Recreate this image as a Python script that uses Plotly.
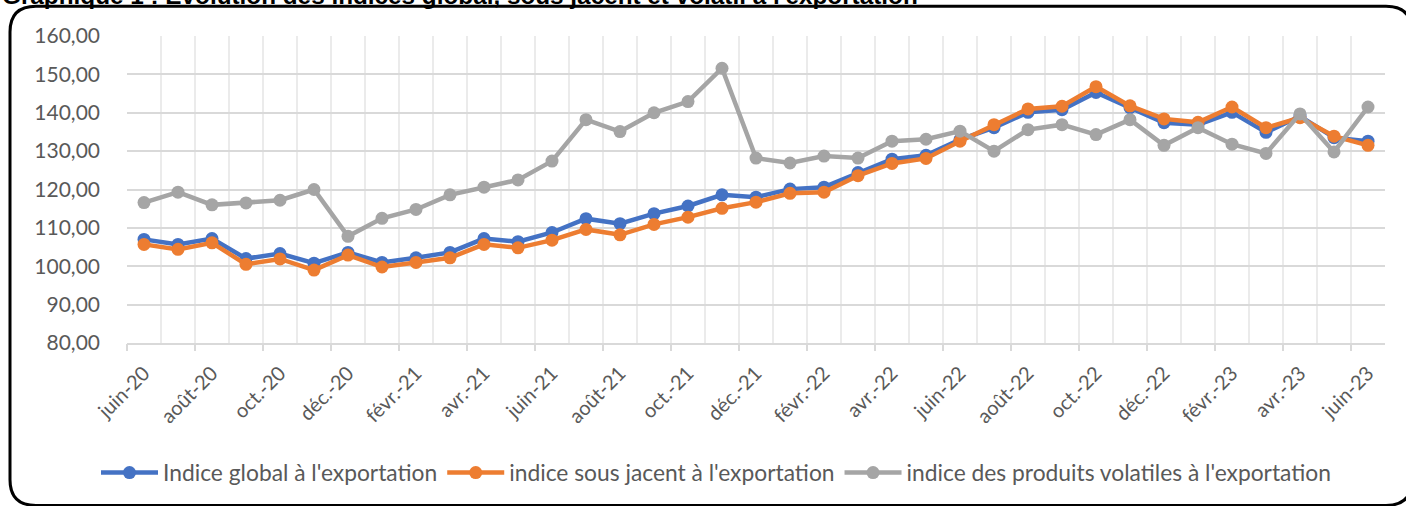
import plotly.graph_objects as go

# ---------------- data ----------------
months = ["juin-20", "juil.-20", "août-20", "sept.-20", "oct.-20", "nov.-20", "déc.-20",
          "janv.-21", "févr.-21", "mars-21", "avr.-21", "mai-21", "juin-21", "juil.-21",
          "août-21", "sept.-21", "oct.-21", "nov.-21", "déc.-21", "janv.-22", "févr.-22",
          "mars-22", "avr.-22", "mai-22", "juin-22", "juil.-22", "août-22", "sept.-22",
          "oct.-22", "nov.-22", "déc.-22", "janv.-23", "févr.-23", "mars-23", "avr.-23",
          "mai-23", "juin-23"]

indice_global = [107.0, 105.7, 107.2, 102.0, 103.3, 100.8, 103.6, 101.0, 102.2, 103.6,
                 107.2, 106.4, 108.8, 112.4, 111.1, 113.7, 115.7, 118.6, 118.0, 120.1,
                 120.6, 124.4, 127.9, 128.9, 133.0, 136.1, 140.1, 140.8, 145.3, 141.3,
                 137.4, 136.9, 140.1, 134.9, 139.1, 133.5, 132.6]

indice_sous_jacent = [105.7, 104.4, 106.1, 100.5, 101.9, 99.0, 102.9, 99.8, 101.0, 102.2,
                      105.7, 104.8, 106.8, 109.6, 108.2, 110.9, 112.8, 115.1, 116.7, 119.0,
                      119.3, 123.6, 126.8, 128.1, 132.6, 136.9, 141.0, 141.7, 146.8, 141.8,
                      138.4, 137.5, 141.5, 136.1, 138.7, 133.9, 131.5]

indice_volatil = [116.6, 119.3, 116.0, 116.5, 117.2, 120.0, 107.8, 112.5, 114.8, 118.6,
                  120.6, 122.5, 127.4, 138.2, 135.1, 140.0, 142.9, 151.6, 128.2, 126.9,
                  128.7, 128.2, 132.6, 133.1, 135.2, 130.0, 135.6, 136.9, 134.3, 138.2,
                  131.5, 136.1, 131.8, 129.4, 139.7, 129.8, 141.5]

series_names = ["Indice global à l'exportation",
                "indice sous jacent à l'exportation",
                "indice des produits volatiles à l'exportation"]
series_colors = ["#4472C4", "#ED7D31", "#A5A5A5"]

title_text = "Graphique 1 : Evolution des indices global, sous jacent et volatil à l'exportation"

# ---------------- figure geometry ----------------
W, H = 1406, 506
# plot area in pixels: left 127, right 1385, top 36, bottom 346
ML, MT = 127, 36
MR = W - 1385
MB = H - 346
PW, PH = W - ML - MR, H - MT - MB

def px_x(p):  # pixel -> paper
    return (p - ML) / PW

def px_y(p):
    return (H - MB - p) / PH

xs = list(range(len(months)))
fig = go.Figure()
for vals, name, col in zip([indice_global, indice_sous_jacent, indice_volatil],
                           series_names, series_colors):
    fig.add_trace(go.Scatter(
        x=xs, y=vals, name=name, mode="lines+markers",
        line=dict(color=col, width=4.5),
        marker=dict(color=col, size=13),
    ))

# dummy trace for the tick-mark axis
fig.add_trace(go.Scatter(x=[0], y=[None], xaxis="x2", showlegend=False,
                         hoverinfo="skip", mode="markers"))

label_idx = list(range(0, len(months), 2))
boundaries = [i - 0.5 for i in range(0, len(months) + 1, 2)]
xr = [-0.5, len(months) - 0.5]

fig.update_layout(
    width=W, height=H,
    margin=dict(l=ML, r=MR, t=MT, b=MB),
    paper_bgcolor="white", plot_bgcolor="white",
    separators=", ",
    font=dict(family="Lato, Open Sans, sans-serif", color="#595959"),
    xaxis=dict(
        range=xr, tickmode="array", tickvals=label_idx,
        ticktext=[months[i] for i in label_idx],
        tickangle=-45, tickfont=dict(size=20, color="#595959"),
        showgrid=False, ticks="", zeroline=False, ticklabelstandoff=9,
        showline=True, linecolor="#D9D9D9", linewidth=1.5,
        minor=dict(tickmode="linear", tick0=-0.5, dtick=1, showgrid=True,
                   gridcolor="#EBEBEB", gridwidth=1.5, ticks=""),
    ),
    xaxis2=dict(
        overlaying="x", anchor="y", side="bottom", range=xr,
        tickmode="array", tickvals=boundaries, ticks="outside", ticklen=7,
        tickcolor="#D9D9D9", tickwidth=1.5, showticklabels=False,
        showgrid=False, zeroline=False, showline=False,
    ),
    yaxis=dict(
        range=[80, 160], dtick=10, tickformat=".2f",
        tickfont=dict(size=21, color="#595959"),
        showgrid=True, gridcolor="#D9D9D9", gridwidth=1.5,
        zeroline=False, ticks="", ticklabelstandoff=26,
    ),
    legend=dict(
        orientation="h", x=px_x(716), xanchor="center", y=px_y(477), yanchor="middle",
        font=dict(size=22.8, color="#595959"), itemwidth=57,
        bgcolor="rgba(0,0,0,0)",
    ),
    showlegend=True,
)

# rounded frame (pixels)
L, T, R, B, r = 10, 6, 1412, 510, 26
path = (f"M {px_x(L + r)},{px_y(T)} L {px_x(R - r)},{px_y(T)} "
        f"Q {px_x(R)},{px_y(T)} {px_x(R)},{px_y(T + r)} "
        f"L {px_x(R)},{px_y(B - r)} Q {px_x(R)},{px_y(B)} {px_x(R - r)},{px_y(B)} "
        f"L {px_x(L + r)},{px_y(B)} Q {px_x(L)},{px_y(B)} {px_x(L)},{px_y(B - r)} "
        f"L {px_x(L)},{px_y(T + r)} Q {px_x(L)},{px_y(T)} {px_x(L + r)},{px_y(T)} Z")
fig.add_shape(type="path", path=path, xref="paper", yref="paper",
              line=dict(color="black", width=3), layer="above")

# title, partly cut at the top edge as in the reference
fig.add_annotation(
    text=f"<b>{title_text}</b>", xref="paper", yref="paper",
    x=px_x(0), y=px_y(11), xanchor="left", yanchor="bottom", showarrow=False,
    font=dict(family="Liberation Sans, Arial, sans-serif", size=24.3, color="black"),
)

fig.write_html("out.html", config={"displayModeBar": False},
               post_script="document.body.style.margin='0px';")
